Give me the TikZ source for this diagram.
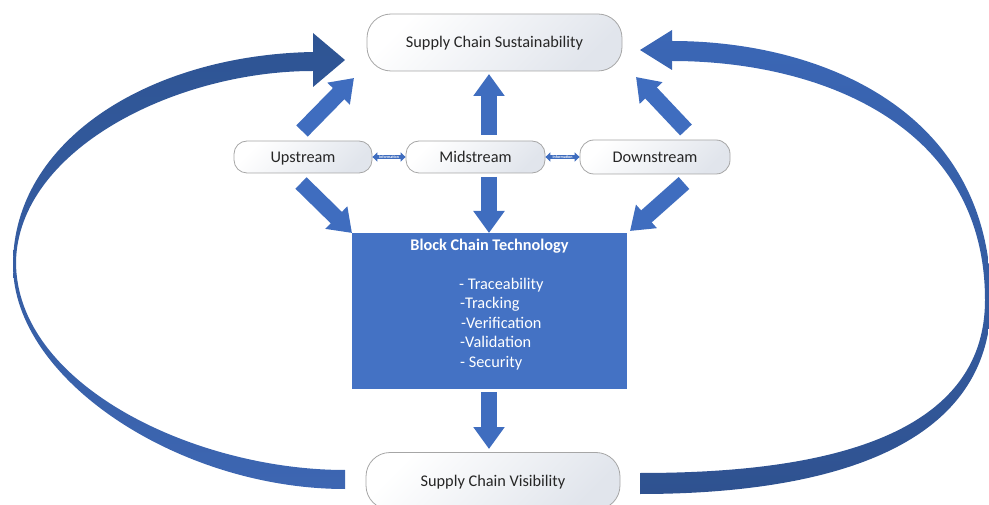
\documentclass[tikz,border=0pt]{standalone}
\usepackage{fontspec}
\setmainfont{Carlito}
\usetikzlibrary{arrows.meta}
\definecolor{boxblue}{HTML}{4472C4}
\definecolor{arrblue}{HTML}{3F6DBF}
\definecolor{ldark}{HTML}{2E5493}
\definecolor{llight}{HTML}{3D66B2}
\definecolor{rlight}{HTML}{3B67B6}
\definecolor{rdark}{HTML}{2F5290}
\definecolor{txtgray}{HTML}{262626}
\definecolor{bordgray}{HTML}{A6A6A6}
\definecolor{fillgray}{HTML}{E1E5EC}
\tikzset{
  pill/.style={draw=bordgray, line width=0.8pt, top color=white, bottom color=fillgray,
    shading angle=45, text=txtgray, font=\fontsize{16.3}{18}\selectfont, inner sep=0pt,
    text height=12pt, text depth=1.6pt},
  blk/.style={line width=16pt, draw=arrblue, -{Triangle[length=22pt,width=30pt]}},
  info/.style={line width=4.5pt, draw=arrblue,
    {Triangle[length=5pt,width=9pt]}-{Triangle[length=5pt,width=9pt]}},
  infotext/.style={text=white, font=\fontsize{4}{4.5}\selectfont\bfseries, inner sep=0pt},
  item/.style={text=white, font=\fontsize{16.3}{18}\selectfont, anchor=west, inner sep=0pt,
    text height=7pt, text depth=2pt},
}
\begin{document}
\begin{tikzpicture}[x=1pt,y=-1pt]
\useasboundingbox (0,0) rectangle (989,505);
\clip (0,0) rectangle (989,505);

% curved arrows
\shade[top color=ldark, bottom color=llight]
  (345,489) .. controls (180,489) and (13,380) .. (13,265)
  .. controls (13,140) and (150,55) .. (313,52)
  -- (313,33) -- (345,60) -- (313,87) -- (313,71)
  .. controls (175,71) and (18,150) .. (16,262)
  .. controls (16,385) and (195,470) .. (345,470) -- cycle;
\shade[top color=rlight, bottom color=rdark]
  (640,494) .. controls (800,494) and (991,460) .. (991,300)
  .. controls (991,110) and (820,41) .. (672,41)
  -- (672,30) -- (640,50) -- (672,70) -- (672,61)
  .. controls (820,61) and (985,125) .. (985,300)
  .. controls (985,450) and (790,473) .. (640,473) -- cycle;

% nodes
\node[pill, rounded corners=24pt, minimum width=255pt, minimum height=57pt] (top) at (494.5,42.5) {Supply Chain Sustainability};
\node[pill, rounded corners=13pt, minimum width=138pt, minimum height=32pt] (up) at (303,157) {Upstream};
\node[pill, rounded corners=13pt, minimum width=139pt, minimum height=32pt] (mid) at (475.5,157) {Midstream};
\node[pill, rounded corners=14pt, minimum width=150pt, minimum height=34pt] (down) at (655,157) {Downstream};
\node[pill, rounded corners=24pt, minimum width=254pt, minimum height=57pt] (vis) at (493,481) {Supply Chain Visibility};

\node[fill=boxblue, draw=none, minimum width=275pt, minimum height=156pt, inner sep=0pt] (bc) at (489.5,311) {};
\node[text=white, font=\fontsize{16.3}{18}\selectfont\bfseries, inner sep=0pt] (bct) at (489.5,246) {Block Chain Technology};
\node[item] (i1) at (459,287) {- Traceability};
\node[item] (i2) at (460,306.5) {-Tracking};
\node[item] (i3) at (461,326) {-Verification};
\node[item] (i4) at (460,345.5) {-Validation};
\node[item] (i5) at (460,365) {- Security};

% block arrows
\coordinate (t1) at (302,131); \coordinate (h1) at (354,78);
\coordinate (t2) at (489,135); \coordinate (h2) at (489,74);
\coordinate (t3) at (686,130); \coordinate (h3) at (636,77);
\coordinate (t4) at (301,183); \coordinate (h4) at (352,233);
\coordinate (t5) at (489,177); \coordinate (h5) at (489,233);
\coordinate (t6) at (684,183); \coordinate (h6) at (630,231);
\coordinate (t7) at (489,392); \coordinate (h7) at (489,449);
\draw[blk] (t1) -- (h1);
\draw[blk] (t2) -- (h2);
\draw[blk] (t3) -- (h3);
\draw[blk] (t4) -- (h4);
\draw[blk] (t5) -- (h5);
\draw[blk] (t6) -- (h6);
\draw[blk] (t7) -- (h7);

% information arrows
\draw[info] (up.east) -- (mid.west) node[midway, infotext] {Information};
\draw[info] (mid.east) -- (down.west) node[midway, infotext] {Information};
\end{tikzpicture}
\end{document}
